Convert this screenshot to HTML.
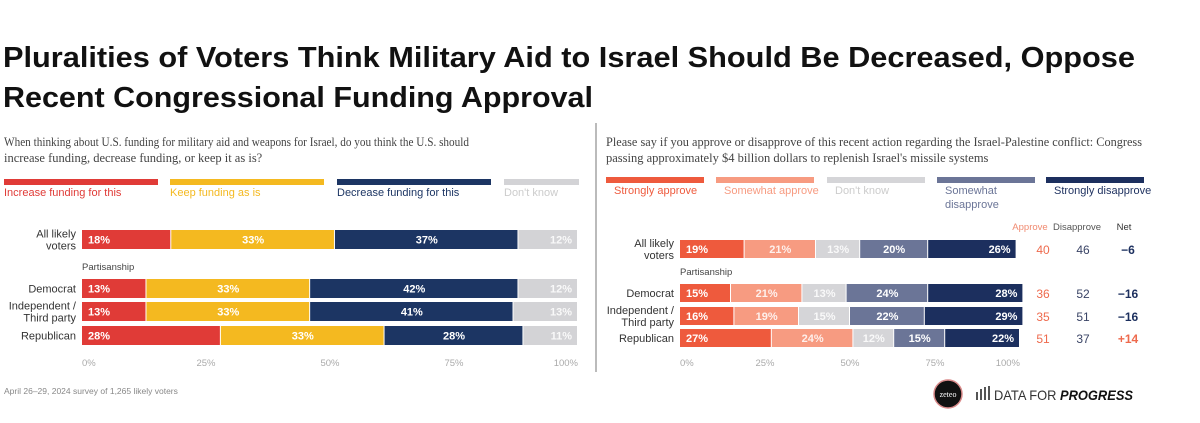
<!DOCTYPE html>
<html><head><meta charset="utf-8">
<style>
html,body{margin:0;padding:0;background:#fff;}
svg{display:block;font-family:"Liberation Sans",sans-serif;}
</style></head>
<body>
<svg id="chart" width="1200" height="423" viewBox="0 0 1200 423" xmlns="http://www.w3.org/2000/svg">
<text x="3" y="67" font-size="29" font-weight="bold" fill="#111" textLength="1132" lengthAdjust="spacingAndGlyphs">Pluralities of Voters Think Military Aid to Israel Should Be Decreased, Oppose</text>
<text x="3" y="107" font-size="29" font-weight="bold" fill="#111" textLength="590" lengthAdjust="spacingAndGlyphs">Recent Congressional Funding Approval</text>
<g font-family="'Liberation Serif',serif" font-size="12.5" fill="#444">
<text x="4" y="146" textLength="465" lengthAdjust="spacingAndGlyphs">When thinking about U.S. funding for military aid and weapons for Israel, do you think the U.S. should</text>
<text x="4" y="162">increase funding, decrease funding, or keep it as is?</text>
<text x="606" y="146" textLength="536" lengthAdjust="spacingAndGlyphs">Please say if you approve or disapprove of this recent action regarding the Israel-Palestine conflict: Congress</text>
<text x="606" y="162">passing approximately $4 billion dollars to replenish Israel's missile systems</text>
</g>
<line x1="596" y1="123" x2="596" y2="372" stroke="#777" stroke-width="1"/>
<g id="left"></g>
<g id="right"></g>
<text x="4" y="394" font-size="8.5" fill="#888">April 26–29, 2024 survey of 1,265 likely voters</text>
<g>
<circle cx="948" cy="394" r="14" fill="#111" stroke="#d98a8a" stroke-width="1.5"/>
<text x="948" y="397" font-family="'Liberation Serif',serif" font-size="8" fill="#fff" text-anchor="middle">zeteo</text>
</g>
<g>
<rect x="976" y="392" width="2" height="8" fill="#555"/><rect x="980" y="389" width="2" height="11" fill="#555"/><rect x="984" y="387" width="2" height="13" fill="#555"/><rect x="988" y="386" width="2" height="14" fill="#555"/>
<text x="994" y="400" font-size="14" fill="#333" textLength="139" lengthAdjust="spacingAndGlyphs">DATA FOR <tspan font-weight="bold" font-style="italic" fill="#111">PROGRESS</tspan></text>
</g>
</svg>
<script>
const leftCategories = ["All likely voters", "Democrat", "Independent / Third party", "Republican"];
const leftSeriesNames = ["Increase funding for this", "Keep funding as is", "Decrease funding for this", "Don't know"];
const leftIncrease = [18, 13, 13, 28];
const leftKeep = [33, 33, 33, 33];
const leftDecrease = [37, 42, 41, 28];
const leftDontKnow = [12, 12, 13, 11];
const rightCategories = ["All likely voters", "Democrat", "Independent / Third party", "Republican"];
const rightSeriesNames = ["Strongly approve", "Somewhat approve", "Don't know", "Somewhat disapprove", "Strongly disapprove"];
const rightStronglyApprove = [19, 15, 16, 27];
const rightSomewhatApprove = [21, 21, 19, 24];
const rightDontKnow = [13, 13, 15, 12];
const rightSomewhatDisapprove = [20, 24, 22, 15];
const rightStronglyDisapprove = [26, 28, 29, 22];
const approveTotals = [40, 36, 35, 51];
const disapproveTotals = [46, 52, 51, 37];
const netValues = ["−6", "−16", "−16", "+14"];
const tickLabels = ["0%", "25%", "50%", "75%", "100%"];
const tickValues = [0, 25, 50, 75, 100];

const NS = "http://www.w3.org/2000/svg";
function mk(parent, tag, attrs, text) {
  const e = document.createElementNS(NS, tag);
  for (const k in attrs) e.setAttribute(k, attrs[k]);
  if (text !== undefined) e.textContent = text;
  parent.appendChild(e);
  return e;
}

function drawPanel(g, cfg) {
  const x = v => cfg.x0 + (cfg.x1 - cfg.x0) * v / 100;
  cfg.legendNames.forEach((n, i) => {
    const sw = mk(g, "rect", {x: cfg.legX[i], y: cfg.legY, width: cfg.legW[i], height: 6, fill: cfg.colors[i]});
    
    
    const lines = cfg.legLines[i];
    lines.forEach((ln, j) => {
      const t = mk(g, "text", {x: cfg.legX[i] + cfg.legTextDx, y: cfg.legY + 17 + j * 14, "font-size": 11, fill: cfg.legTextColors[i]}, ln);
      
      
    });
  });
  cfg.categories.forEach((cat, r) => {
    const y = cfg.rowY[r], h = cfg.barH;
    const lbl = cfg.labelLines[r];
    lbl.forEach((ln, j) => {
      const t = mk(g, "text", {x: cfg.x0 - 6, y: y + h / 2 + 4 + (j - (lbl.length - 1) / 2) * 12, "font-size": 11, fill: "#333", "text-anchor": "end"}, ln);
      
      
    });
    let acc = 0;
    cfg.series.forEach((arr, s) => {
      const v = arr[r];
      const rect = mk(g, "rect", {x: x(acc), y: y, width: x(acc + v) - x(acc) - 1, height: h, fill: cfg.colors[s]});
      
      
      let tx, anchor;
      if (s === 0) { tx = x(acc) + 6; anchor = "start"; }
      else if (s === cfg.series.length - 1) { tx = x(acc + v) - 6; anchor = "end"; }
      else { tx = (x(acc) + x(acc + v)) / 2; anchor = "middle"; }
      const t = mk(g, "text", {x: tx, y: y + h / 2 + 4, "font-size": 11, "font-weight": "bold", fill: "#fff", "text-anchor": anchor, "fill-opacity": cfg.lightText[s] ? 0.85 : 1}, v + "%");
      
      
      acc += v;
    });
  });
  const p = mk(g, "text", {x: cfg.x0, y: cfg.partY, "font-size": 9.5, fill: "#444"}, "Partisanship");
  
  
  tickValues.forEach((v, i) => {
    const t = mk(g, "text", {x: x(v), y: 366, "font-size": 9.5, fill: "#aaa", "text-anchor": i === 0 ? "start" : (i === 4 ? "end" : "middle")}, tickLabels[i]);
    
    
  });
}

drawPanel(document.getElementById("left"), {
  x0: 82, x1: 578, barH: 19, rowY: [230, 279, 302, 326], partY: 270,
  categories: leftCategories,
  labelLines: [["All likely", "voters"], ["Democrat"], ["Independent /", "Third party"], ["Republican"]],
  series: [leftIncrease, leftKeep, leftDecrease, leftDontKnow],
  colors: ["#e03b37", "#f4b920", "#1c3563", "#d3d3d6"],
  lightText: [false, false, false, true],
  legendNames: leftSeriesNames,
  legLines: [["Increase funding for this"], ["Keep funding as is"], ["Decrease funding for this"], ["Don't know"]],
  legX: [4, 170, 337, 504], legW: [154, 154, 154, 75], legY: 179, legTextDx: 0,
  legTextColors: ["#e03b37", "#f4b920", "#1c3563", "#ccc"]
});

drawPanel(document.getElementById("right"), {
  x0: 680, x1: 1020, barH: 18, rowY: [240, 284, 307, 329], partY: 275,
  categories: rightCategories,
  labelLines: [["All likely", "voters"], ["Democrat"], ["Independent /", "Third party"], ["Republican"]],
  series: [rightStronglyApprove, rightSomewhatApprove, rightDontKnow, rightSomewhatDisapprove, rightStronglyDisapprove],
  colors: ["#ee5a3d", "#f79b81", "#d5d5d8", "#6b7597", "#1c2f5e"],
  lightText: [false, true, true, false, false],
  legendNames: rightSeriesNames,
  legLines: [["Strongly approve"], ["Somewhat approve"], ["Don't know"], ["Somewhat", "disapprove"], ["Strongly disapprove"]],
  legX: [606, 716, 827, 937, 1046], legW: [98, 98, 98, 98, 98], legY: 177, legTextDx: 8,
  legTextColors: ["#ee5a3d", "#f79b81", "#ccc", "#6b7597", "#1c2f5e"]
});
(function(){
  const g = document.getElementById("right");
  const hdr = [["Approve", 1030, "#f08a70"], ["Disapprove", 1077, "#555"], ["Net", 1124, "#333"]];
  hdr.forEach(h => {
    const t = mk(g, "text", {x: h[1], y: 230, "font-size": 9.5, fill: h[2], "text-anchor": "middle"}, h[0]);
    
    
  });
  const rowY = [240, 284, 307, 329];
  rowY.forEach((y, r) => {
    const a = mk(g, "text", {x: 1043, y: y + 14, "font-size": 12, fill: "#ee6a4d", "text-anchor": "middle"}, approveTotals[r]);
    
    
    const d = mk(g, "text", {x: 1083, y: y + 14, "font-size": 12, fill: "#3a4466", "text-anchor": "middle"}, disapproveTotals[r]);
    
    
    const n = mk(g, "text", {x: 1128, y: y + 14, "font-size": 12, "font-weight": "bold", fill: netValues[r].startsWith("+") ? "#ee6a4d" : "#1c2f5e", "text-anchor": "middle"}, netValues[r]);
    
    
  });
})();
</script>
</body></html>
